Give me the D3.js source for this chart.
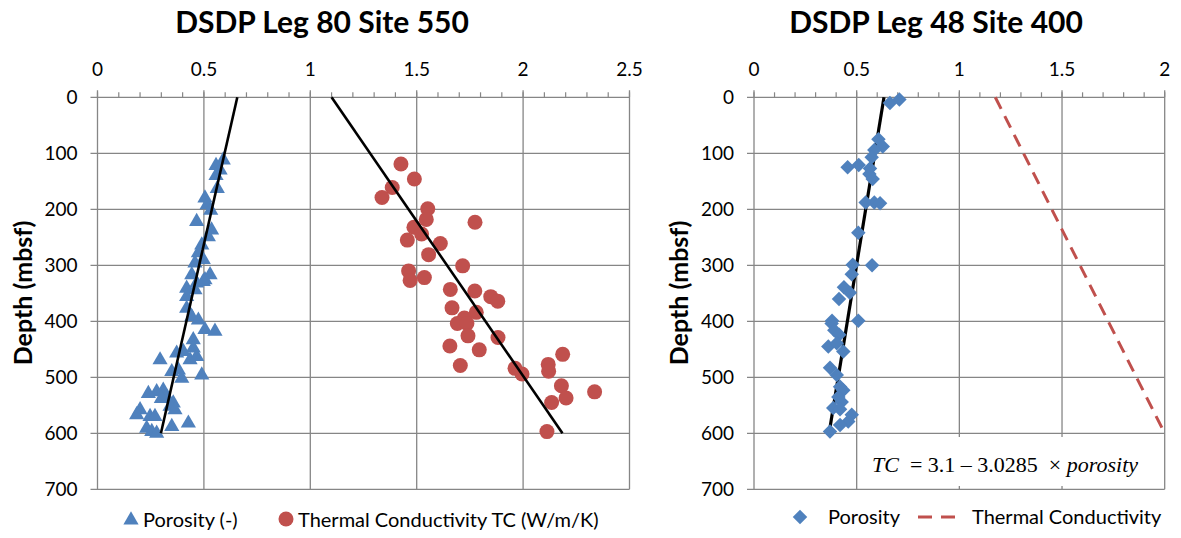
<!DOCTYPE html>
<html lang="en">
<head>
<meta charset="utf-8">
<title>DSDP porosity and thermal conductivity</title>
<script src="https://cdn.jsdelivr.net/npm/d3@7"></script>
<style>
  body { margin: 0; background: #fff; }
  text { font-family: Lato, "Open Sans", sans-serif; fill: #000; }
</style>
</head>
<body>
<div id="chart"></div>
<script>
// ---- data: [value, depth (mbsf)] ----
var site550Porosity = [
  [0.591,112],[0.557,122],[0.576,130],[0.557,140],[0.563,163],[0.505,180],[0.515,192],
  [0.532,202],[0.466,222],[0.536,237],[0.521,249],[0.49,264],[0.474,278],[0.497,290],
  [0.458,296],[0.443,317],[0.529,317],[0.505,326],[0.466,332],[0.419,341],[0.497,329],
  [0.458,344],[0.419,356],[0.419,377],[0.443,392],[0.474,398],[0.505,415],[0.552,418],
  [0.45,433],[0.45,448],[0.294,469],[0.372,457],[0.403,454],[0.435,469],[0.466,463],
  [0.349,490],[0.38,487],[0.396,502],[0.49,496],[0.239,529],[0.278,526],[0.309,523],
  [0.325,535],[0.30,538],[0.356,546],[0.341,552],[0.364,558],[0.20,558],[0.184,567],
  [0.247,570],[0.27,570],[0.231,591],[0.255,597],[0.278,600],[0.349,588],[0.427,582]
];
var site550TC = [
  [1.426,119],[1.489,146],[1.385,161],[1.337,179],[1.552,199],[1.545,218],[1.774,223],
  [1.487,232],[1.523,244],[1.456,255],[1.611,261],[1.556,281],[1.716,301],[1.462,310],
  [1.469,327],[1.536,322],[1.658,343],[1.773,346],[1.848,356],[1.881,364],[1.666,376],
  [1.78,384],[1.724,394],[1.691,404],[1.736,404],[1.741,426],[1.882,429],[1.656,444],
  [1.794,451],[1.705,479],[1.962,484],[1.995,494],[2.118,477],[2.12,489],[2.186,459],
  [2.18,515],[2.202,537],[2.134,545],[2.336,526],[2.112,597]
];
var site550PorosityTrend = [[0.657,0],[0.298,600]];
var site550TCTrend = [[1.10,0],[2.185,600]];

var site400Porosity = [
  [0.708,4],[0.662,10],[0.606,75],[0.627,88],[0.586,94],[0.573,107],[0.456,125],
  [0.51,121],[0.565,127],[0.562,137],[0.578,146],[0.544,188],[0.586,188],[0.614,189],
  [0.508,242],[0.481,299],[0.575,300],[0.476,316],[0.438,339],[0.467,349],[0.414,360],
  [0.38,399],[0.508,399],[0.378,404],[0.391,416],[0.415,424],[0.362,445],[0.403,439],
  [0.435,454],[0.37,483],[0.403,496],[0.419,517],[0.435,523],[0.411,535],[0.427,544],
  [0.386,555],[0.419,557],[0.476,567],[0.459,579],[0.419,585],[0.37,597]
];
var site400PorosityTrend = [[0.633,0],[0.37,590]];
var site400TCLine = [[1.175,0],[2.0,600]];

var depthTicks = [0,100,200,300,400,500,600,700];
var site550Ticks = [0,0.5,1,1.5,2,2.5];
var site400Ticks = [0,0.5,1,1.5,2];

var blue = "#4F81BD", red = "#C0504D", gridColor = "#868686";

var svg = d3.select("#chart").append("svg")
  .attr("width", 1181).attr("height", 538);

function panel(opt) {
  var x = d3.scaleLinear().domain(opt.xDomain).range(opt.xRange);
  var y = d3.scaleLinear().domain([0,700]).range([97.3,489.3]);
  var g = svg.append("g");

  // minor ticks on top axis every 0.1
  var minor = d3.range(0, opt.xDomain[1] + 0.001, 0.1);
  g.selectAll(".minor").data(minor).enter().append("line")
    .attr("x1", function(d){ return x(d); }).attr("x2", function(d){ return x(d); })
    .attr("y1", y(0) - 5).attr("y2", y(0))
    .attr("stroke", gridColor).attr("stroke-width", 1.2);

  // vertical grid
  g.selectAll(".vg").data(opt.xTicks).enter().append("line")
    .attr("x1", function(d){ return x(d); }).attr("x2", function(d){ return x(d); })
    .attr("y1", y(0) - 7).attr("y2", y(700))
    .attr("stroke", gridColor).attr("stroke-width", 1.3);
  // horizontal grid
  g.selectAll(".hg").data(depthTicks).enter().append("line")
    .attr("x1", x(0) - 7).attr("x2", x(opt.xDomain[1]))
    .attr("y1", function(d){ return y(d); }).attr("y2", function(d){ return y(d); })
    .attr("stroke", gridColor).attr("stroke-width", 1.3);

  // tick labels
  g.selectAll(".xl").data(opt.xTicks).enter().append("text")
    .attr("x", function(d){ return x(d); }).attr("y", 76)
    .attr("text-anchor", "middle").style("font-size", "19px")
    .text(function(d){ return d; });
  g.selectAll(".yl").data(depthTicks).enter().append("text")
    .attr("x", x(0) - 20).attr("y", function(d){ return y(d) + 7; })
    .attr("text-anchor", "end").style("font-size", "19px")
    .text(function(d){ return d; });

  // title and axis name
  g.append("text").attr("x", opt.titleX).attr("y", 33)
    .attr("text-anchor", "middle").style("font-size", "30px").style("font-weight", "bold")
    .text(opt.title);
  g.append("text")
    .attr("transform", "translate(" + opt.yLabelX + ",293) rotate(-90)")
    .attr("text-anchor", "middle").style("font-size", "25px").style("font-weight", "bold")
    .text("Depth (mbsf)");

  var line = d3.line().x(function(d){ return x(d[0]); }).y(function(d){ return y(d[1]); });
  return { g: g, x: x, y: y, line: line };
}

// ---- Site 550 ----
var p1 = panel({ xDomain: [0,2.5], xRange: [97.5,629.5], xTicks: site550Ticks,
  title: "DSDP Leg 80 Site 550", titleX: 322, yLabelX: 32 });

p1.g.selectAll(".tri").data(site550Porosity).enter().append("path")
  .attr("d", d3.symbol().type(d3.symbolTriangle).size(100))
  .attr("transform", function(d){ return "translate(" + p1.x(d[0]) + "," + p1.y(d[1]) + ")"; })
  .attr("fill", blue);
p1.g.selectAll(".cir").data(site550TC).enter().append("circle")
  .attr("cx", function(d){ return p1.x(d[0]); }).attr("cy", function(d){ return p1.y(d[1]); })
  .attr("r", 7.5).attr("fill", red);
p1.g.append("path").datum(site550PorosityTrend).attr("d", p1.line)
  .attr("stroke", "#000").attr("stroke-width", 2.6).attr("fill", "none");
p1.g.append("path").datum(site550TCTrend).attr("d", p1.line)
  .attr("stroke", "#000").attr("stroke-width", 2.6).attr("fill", "none");

// legend
svg.append("path").attr("d", d3.symbol().type(d3.symbolTriangle).size(100))
  .attr("transform", "translate(131,520)").attr("fill", blue);
svg.append("text").attr("x", 143).attr("y", 527).style("font-size", "20px").text("Porosity (-)");
svg.append("circle").attr("cx", 286).attr("cy", 519).attr("r", 7.5).attr("fill", red);
svg.append("text").attr("x", 298).attr("y", 527).style("font-size", "20px")
  .text("Thermal Conductivity TC (W/m/K)");

// ---- Site 400 ----
var p2 = panel({ xDomain: [0,2], xRange: [754,1164.7], xTicks: site400Ticks,
  title: "DSDP Leg 48 Site 400", titleX: 936, yLabelX: 688 });

// equation box hides the grid below it
p2.g.append("rect").attr("x", 866).attr("y", 437).attr("width", 296).attr("height", 49)
  .attr("fill", "#fff");
var eq = p2.g.append("text").attr("x", 1005).attr("y", 472).attr("text-anchor", "middle")
  .style("font-family", "'Liberation Serif', 'Times New Roman', serif")
  .style("font-size", "22px").style("white-space", "pre");
eq.append("tspan").style("font-style", "italic").style("font-family", "'Liberation Serif', serif").text("TC");
eq.append("tspan").style("font-family", "'Liberation Serif', serif").text("  = 3.1 \u2013 3.0285  \u00d7 ");
eq.append("tspan").style("font-style", "italic").style("font-family", "'Liberation Serif', serif").text("porosity");

p2.g.append("path").datum(site400TCLine).attr("d", p2.line)
  .attr("stroke", red).attr("stroke-width", 3).attr("stroke-dasharray", "13,8").attr("fill", "none");
p2.g.append("path").datum(site400PorosityTrend).attr("d", p2.line)
  .attr("stroke", "#000").attr("stroke-width", 3.2).attr("fill", "none");
p2.g.selectAll(".dia").data(site400Porosity).enter().append("path")
  .attr("d", d3.symbol().type(d3.symbolSquare).size(105))
  .attr("transform", function(d){ return "translate(" + p2.x(d[0]) + "," + p2.y(d[1]) + ") rotate(45)"; })
  .attr("fill", blue);

svg.append("path").attr("d", d3.symbol().type(d3.symbolSquare).size(105))
  .attr("transform", "translate(800,517) rotate(45)").attr("fill", blue);
svg.append("text").attr("x", 828).attr("y", 524).style("font-size", "20px").text("Porosity");
svg.append("line").attr("x1", 918).attr("x2", 957).attr("y1", 517).attr("y2", 517)
  .attr("stroke", red).attr("stroke-width", 3).attr("stroke-dasharray", "14,9");
svg.append("text").attr("x", 972).attr("y", 524).style("font-size", "20px").text("Thermal Conductivity");
</script>
</body>
</html>
